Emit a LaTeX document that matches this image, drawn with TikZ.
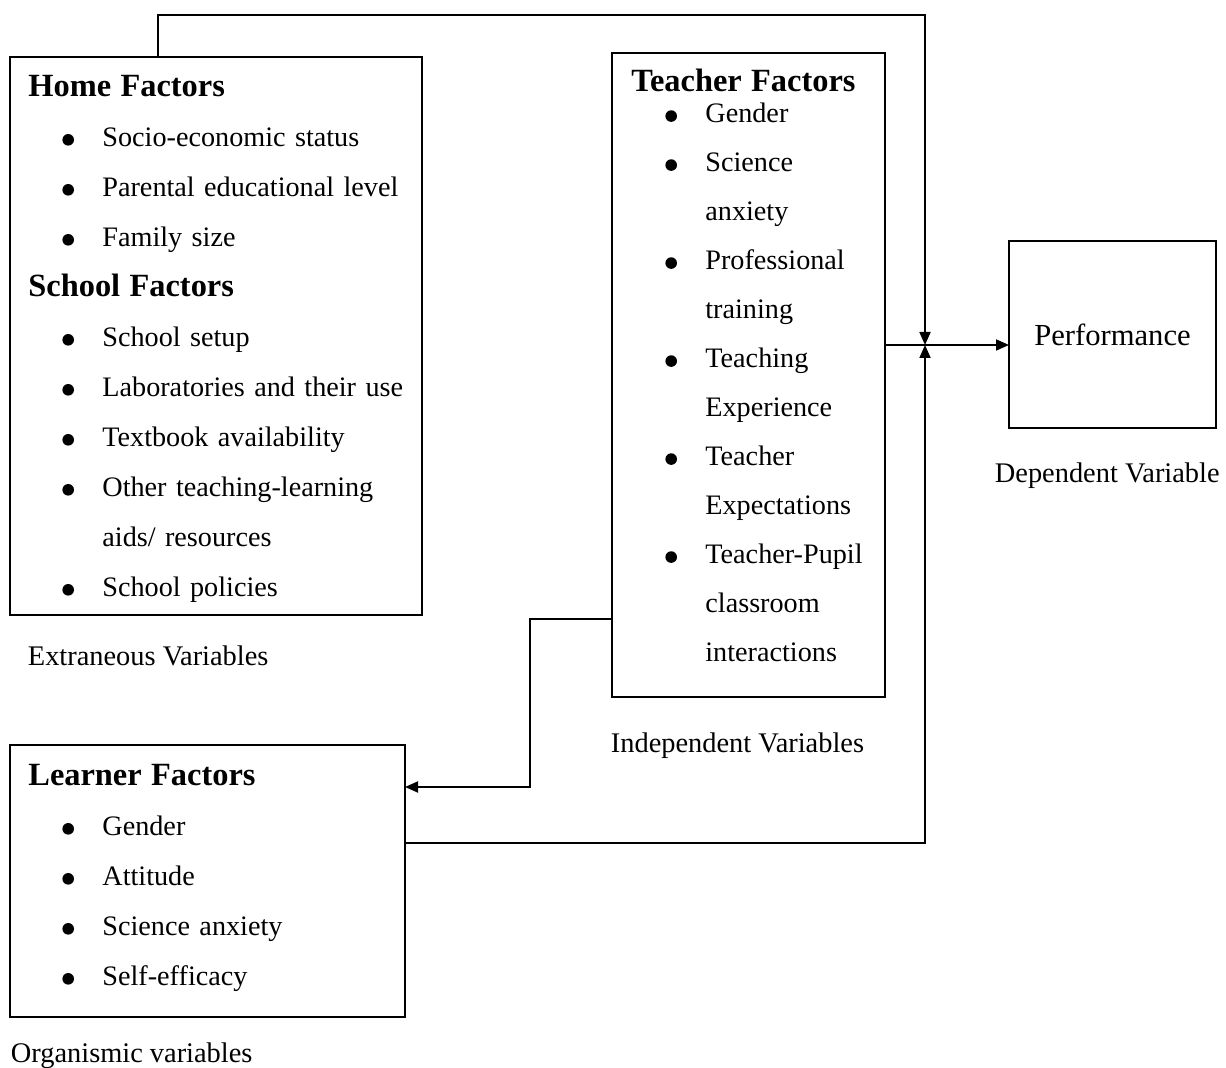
\documentclass[tikz,border=0pt]{standalone}
\usepackage{fontspec}
\setmainfont{Liberation Serif}
\usetikzlibrary{arrows.meta}
\usetikzlibrary{positioning}

\newcommand{\bul}{\tikz[baseline=-3.4pt]\fill (0,0) circle (2.9pt);}
\newcommand{\bitem}[1]{\hspace*{17pt}\makebox[20pt][l]{\bul}#1}
\newcommand{\cont}[1]{\hspace*{37pt}#1}
\newcommand{\ttl}[1]{{\fontsize{16.2}{25}\selectfont\bfseries #1}}

\begin{document}
\begin{tikzpicture}[x=0.5pt,y=-0.5pt,>={Triangle[length=6.5pt,width=5.5pt]},
                    line width=0.9pt]
  \tikzset{box/.style={draw, rectangle, inner sep=0pt, outer sep=0pt, anchor=north west},
           list/.style={anchor=north west, inner sep=0pt, align=left,
                        font=\fontsize{14.1}{25}\selectfont},
           lbl/.style={anchor=base west, inner sep=0pt, font=\fontsize{14.2}{17}\selectfont}}
  \useasboundingbox (0,0) rectangle (1226,1068);

  % boxes
  \node[box, minimum width=206pt, minimum height=279pt] (home) at (10,57) {};
  \node[box, minimum width=136.5pt, minimum height=322pt] (teacher) at (612,53) {};
  \node[box, minimum width=197.5pt, minimum height=136pt] (learner) at (10,745) {};
  \node[box, anchor=center, minimum width=103.5pt, minimum height=93.5pt,
        font=\fontsize{15.3}{18}\selectfont] (perf) at (1112.5,334.5) {Performance};

  % box contents
  \node[list, text width=195pt] (homelist) at (28,75) {%
    \ttl{Home Factors}\\
    \bitem{Socio-economic status}\\
    \bitem{Parental educational level}\\
    \bitem{Family size}\\
    \ttl{School Factors}\\
    \bitem{School setup}\\
    \bitem{Laboratories and their use}\\
    \bitem{Textbook availability}\\
    \bitem{Other teaching-learning}\\
    \cont{aids/ resources}\\
    \bitem{School policies}};
  \node[list, text width=130pt, font=\fontsize{14.1}{24.5}\selectfont] (teacherlist) at (631,69) {%
    \ttl{Teacher Factors}\\[-9pt]
    \bitem{Gender}\\
    \bitem{Science}\\
    \cont{anxiety}\\
    \bitem{Professional}\\
    \cont{training}\\
    \bitem{Teaching}\\
    \cont{Experience}\\
    \bitem{Teacher}\\
    \cont{Expectations}\\
    \bitem{Teacher-Pupil}\\
    \cont{classroom}\\
    \cont{interactions}};
  \node[list, text width=180pt] (learnerlist) at (28,764) {%
    \ttl{Learner Factors}\\
    \bitem{Gender}\\
    \bitem{Attitude}\\
    \bitem{Science anxiety}\\
    \bitem{Self-efficacy}};

  % variable labels
  \node[lbl] (extlbl) at (27,666) {Extraneous Variables};
  \node[lbl] (indlbl) at (610,753) {Independent Variables};
  \node[lbl] (deplbl) at (994,483) {Dependent Variable};
  \node[lbl] (orglbl) at (10,1062) {Organismic variables};

  % connectors
  \coordinate (jn) at (925,345);
  \coordinate (topline) at (925,15);
  \coordinate (botline) at (925,843);
  \coordinate (bend) at (530,619);
  \coordinate (bend2) at (530,787);
  \draw[->] ([xshift=74pt]home.north west) |- (topline) -- (jn);
  \draw[->] (learner.east |- botline) -- (botline) -- (jn);
  \draw[->] (teacher.east |- jn) -- (perf.west |- jn);
  \draw[->] (teacher.west |- bend) -- (bend) -- (bend2) -- (learner.east |- bend2);
\end{tikzpicture}
\end{document}
